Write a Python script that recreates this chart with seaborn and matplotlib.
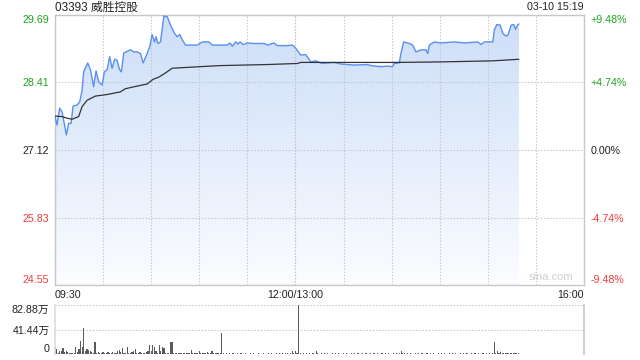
import numpy as np
import pandas as pd
import matplotlib
matplotlib.use("Agg")
import matplotlib.pyplot as plt
from matplotlib.colors import LinearSegmentedColormap
import seaborn as sns

# ---------------- data ----------------
title_text = "03393 威胜控股"
stamp_text = "03-10 15:19"
prev_close = 27.12
price_ticks = [29.69, 28.41, 27.12, 25.83, 24.55]
pct_labels = ["+9.48%", "+4.74%", "0.00%", "-4.74%", "-9.48%"]
time_ticks = [0, 150, 330]
time_labels = ["09:30", "12:00/13:00", "16:00"]
vol_ticks = [0, 41.44, 82.88]
vol_labels = ["0", "41.44万", "82.88万"]

# trading minutes since 09:30 (lunch break removed) and price
price_min = [0, 1.25, 2.9, 4.4, 5.4, 7.1, 8.5, 10, 11.25, 13.75, 15.4, 16.9, 17.9, 20.4,
             22.1, 24.1, 25.6, 27.25, 29.4, 30.8, 32.5, 34.1, 35.6, 37.25, 38.75, 40.2,
             41.4, 42.9, 47.1, 49.1, 51.25, 53.3, 55, 57.5, 59.1, 60.6, 62.1, 63.1, 64.1,
             65.8, 67.9, 70, 72.1, 74.6, 76.25, 77.9, 79.4, 81.4, 88.75, 91.9, 96, 98.1,
             107.5, 109.1, 110.6, 112.7, 114.1, 115.4, 117.5, 120, 124.1, 130.4, 132.5,
             136.6, 138.75, 145, 148.1, 150.2, 153.3, 156.4, 159.6, 162.7, 166.5, 170,
             174.1, 178.3, 186.6, 195, 197.1, 203.3, 207.5, 210.6, 211.6, 214.75, 215.8,
             217.5, 221, 223.1, 225.2, 228.3, 231.4, 232.5, 233.5, 236.6, 240.8, 249.1,
             255.4, 263.75, 265.8, 267.9, 273.1, 274.1, 275.6, 277.7, 279.4, 281.4, 282.5,
             284.6, 286.25, 287.25, 288.75, 289.4]
price_val = [27.76, 27.60, 27.92, 27.85, 27.69, 27.41, 27.63, 27.63, 27.96, 27.98, 28.04,
             28.26, 28.61, 28.78, 28.65, 28.33, 28.63, 28.42, 28.36, 28.61, 28.65, 28.90,
             28.68, 28.85, 28.83, 28.66, 28.61, 28.97, 29.03, 28.99, 28.99, 28.96, 28.78,
             28.96, 29.09, 29.32, 29.18, 29.28, 29.15, 29.18, 29.67, 29.66, 29.50, 29.34,
             29.28, 29.32, 29.22, 29.12, 29.12, 29.18, 29.18, 29.12, 29.12, 29.16, 29.10,
             29.18, 29.14, 29.18, 29.13, 29.16, 29.15, 29.15, 29.12, 29.16, 29.11, 29.11,
             29.12, 29.06, 28.93, 28.94, 28.80, 28.82, 28.77, 28.78, 28.79, 28.76, 28.74,
             28.75, 28.73, 28.71, 28.72, 28.71, 28.77, 28.78, 28.96, 29.18, 29.15, 29.12,
             28.99, 29.03, 29.03, 28.96, 29.12, 29.18, 29.16, 29.18, 29.16, 29.18, 29.13,
             29.18, 29.18, 29.41, 29.51, 29.50, 29.34, 29.29, 29.31, 29.50, 29.51, 29.42,
             29.51, 29.52]

avg_min = [0, 4.4, 7.5, 10.6, 14.75, 16.9, 20, 25.2, 32.5, 40.8, 43.9, 51.25, 57.5,
           61.25, 64.75, 68.9, 73.1, 90.8, 103.3, 132.5, 151.25, 153.3, 211.6, 240.8,
           273.1, 289.4]
avg_val = [27.77, 27.76, 27.73, 27.71, 27.76, 27.95, 28.07, 28.15, 28.18, 28.23, 28.29,
           28.34, 28.38, 28.47, 28.51, 28.59, 28.68, 28.71, 28.73, 28.75, 28.77, 28.79,
           28.79, 28.80, 28.82, 28.85]

# volume per minute (万股), minute 0 .. 289
vol = [13, 9, 3, 6, 5, 10, 4, 5, 4, 3,
       3, 2, 3, 13, 4, 9, 23, 12, 45, 6,
       9, 7, 5, 4, 3, 20, 3, 4, 2, 3,
       4, 2, 3, 4, 2, 3, 4, 2, 3, 5,
       7, 4, 10, 3, 2, 13, 3, 2, 4, 5,
       9, 3, 2, 4, 3, 2, 3, 4, 6, 16,
       5, 15, 12, 5, 3, 15, 5, 13, 10, 3,
       2, 3, 20, 21, 3, 2, 3, 2, 3, 2,
       2, 3, 2, 2, 3, 7, 2, 2, 3, 2,
       6, 2, 2, 3, 2, 4, 2, 2, 6, 2,
       2, 3, 2, 2, 36, 2, 1, 2, 1, 2,
       1, 2, 1, 1, 2, 1, 2, 1, 1, 2,
       1, 1, 2, 1, 2, 1, 1, 2, 1, 1,
       2, 1, 1, 2, 1, 2, 1, 1, 2, 1,
       2, 1, 2, 1, 2, 3, 1, 2, 5, 2,
       5, 2, 82.88, 2, 1, 2, 1, 2, 1, 2,
       1, 2, 1, 5, 2, 1, 2, 1, 2, 1,
       2, 1, 1, 2, 1, 2, 1, 2, 1, 1,
       2, 1, 2, 1, 1, 2, 1, 2, 1, 2,
       1, 1, 2, 1, 2, 1, 1, 2, 1, 2,
       1, 2, 1, 1, 2, 1, 2, 1, 2, 1,
       1, 2, 1, 2, 1, 2, 5, 3, 2, 1,
       2, 1, 2, 1, 1, 2, 1, 2, 1, 2,
       1, 1, 2, 1, 2, 1, 2, 1, 1, 2,
       1, 2, 1, 2, 1, 1, 2, 1, 2, 1,
       2, 1, 1, 2, 1, 2, 1, 2, 1, 1,
       2, 1, 2, 1, 2, 1, 1, 2, 1, 2,
       1, 2, 1, 2, 20, 3, 5, 3, 4, 2,
       3, 2, 3, 2, 3, 2, 3, 2, 2, 2]

# ---------------- style ----------------
sns.set_theme(style="white")
plt.rcParams["font.family"] = ["Liberation Sans", "Noto Sans CJK SC", "DejaVu Sans"]

GREEN = "#1ea51e"
RED = "#f03c3c"
BLACK = "#222222"
SPINE = "#c8c8c8"
GRID = "#c4c4c4"
LINE = "#5a8ff0"

FS = 7.7

fig = plt.figure(figsize=(6.4, 3.6), dpi=100)
ax = fig.add_axes([55 / 640, 74.6 / 360, 529 / 640, 270.3 / 360])
axv = fig.add_axes([55 / 640, 5.6 / 360, 529 / 640, 49.4 / 360])

ymin, ymax = price_ticks[-1], price_ticks[0]
ax.set_xlim(0, 330)
ax.set_ylim(ymin, ymax)

# gradient fill under price
df = pd.DataFrame({"t": price_min, "p": price_val})
poly = ax.fill_between(df["t"], df["p"], ymin, color="none", linewidth=0)
cmap = LinearSegmentedColormap.from_list("g", [(0.985, 0.99, 1.0), (0.80, 0.87, 0.975)])
grad = np.linspace(0, 1, 256).reshape(-1, 1)
im = ax.imshow(grad, extent=[0, 330, ymin, ymax], origin="lower", aspect="auto",
               cmap=cmap, zorder=1, interpolation="bicubic")
im.set_clip_path(poly.get_paths()[0], transform=ax.transData)

sns.lineplot(data=df, x="t", y="p", ax=ax, color=LINE, linewidth=1.0, zorder=4)
dfa = pd.DataFrame({"t": avg_min, "a": avg_val})
sns.lineplot(data=dfa, x="t", y="a", ax=ax, color="#333333", linewidth=0.9, zorder=5)

# grid
ax.set_xticks(time_ticks)
ax.set_xticks(np.arange(30, 330, 30), minor=True)
ax.xaxis.remove_overlapping_locs = False
ax.set_yticks(price_ticks)
ax.set_yticklabels([f"{v:.2f}" for v in price_ticks])
ax.grid(True, which="both", axis="x", color=GRID, linestyle=(0, (1.2, 1.6)), linewidth=0.8, zorder=3)
ax.grid(True, which="major", axis="y", color=GRID, linestyle=(0, (1.2, 1.6)), linewidth=0.8, zorder=3)
ax.set_axisbelow(False)
for gl in ax.get_xgridlines() + ax.get_ygridlines():
    gl.set_zorder(3)

ax.set_xticklabels(time_labels)
ax.tick_params(axis="both", which="both", length=0, labelsize=FS)
ax.tick_params(axis="x", pad=3, colors=BLACK)
ax.tick_params(axis="y", pad=4)
xl = ax.get_xticklabels()
xl[0].set_ha("left")
xl[2].set_ha("right")

colors = [GREEN, GREEN, BLACK, RED, RED]
for lab, c in zip(ax.get_yticklabels(), colors):
    lab.set_color(c)
ylabs = ax.get_yticklabels()
ylabs[0].set_va("top")
ylabs[-1].set_va("bottom")
ax.set_xlabel("")
ax.set_ylabel("")

for s in ax.spines.values():
    s.set_color(SPINE)
    s.set_linewidth(1.0)

# right percentage axis
ax2 = ax.twinx()
ax2.set_ylim(ymin, ymax)
ax2.set_yticks(price_ticks)
ax2.set_yticklabels(pct_labels)
ax2.tick_params(axis="y", length=0, labelsize=FS, pad=5)
for lab, c in zip(ax2.get_yticklabels(), colors):
    lab.set_color(c)
r = ax2.get_yticklabels()
r[0].set_va("top")
r[-1].set_va("bottom")
for s in ax2.spines.values():
    s.set_visible(False)
ax2.grid(False)

ax.text(0.979, 0.012, "sina.com", transform=ax.transAxes, ha="right", va="bottom",
        color="#cfcfcf", fontsize=8, zorder=6)

# ---------------- volume ----------------
vmin_idx = np.arange(len(vol))
axv.bar(vmin_idx, vol, width=0.75, color="#5a5a5a", linewidth=0, align="center")
axv.set_xlim(0, 330)
axv.set_ylim(0, vol_ticks[-1])
axv.set_xticks([])
axv.set_yticks(vol_ticks)
axv.set_yticklabels(vol_labels)
axv.tick_params(axis="y", length=0, labelsize=FS, pad=4, colors=BLACK)
vl = axv.get_yticklabels()
vl[0].set_va("bottom")
vl[-1].set_va("top")
axv.grid(True, axis="y", color=GRID, linestyle=(0, (1.2, 1.6)), linewidth=0.8)
axv.get_ygridlines()[0].set_visible(False)
axv.spines["top"].set_visible(False)
axv.spines["bottom"].set_visible(False)
axv.spines["left"].set_color("#dddddd")
axv.spines["right"].set_color(SPINE)

# ---------------- header ----------------
fig.text(55 / 640, 1 - 7.5 / 360, title_text, ha="left", va="center", fontsize=8.5, color=BLACK)
fig.text(584 / 640, 1 - 7.5 / 360, stamp_text, ha="right", va="center", fontsize=FS, color=BLACK)

fig.savefig("out.png", dpi=100)
